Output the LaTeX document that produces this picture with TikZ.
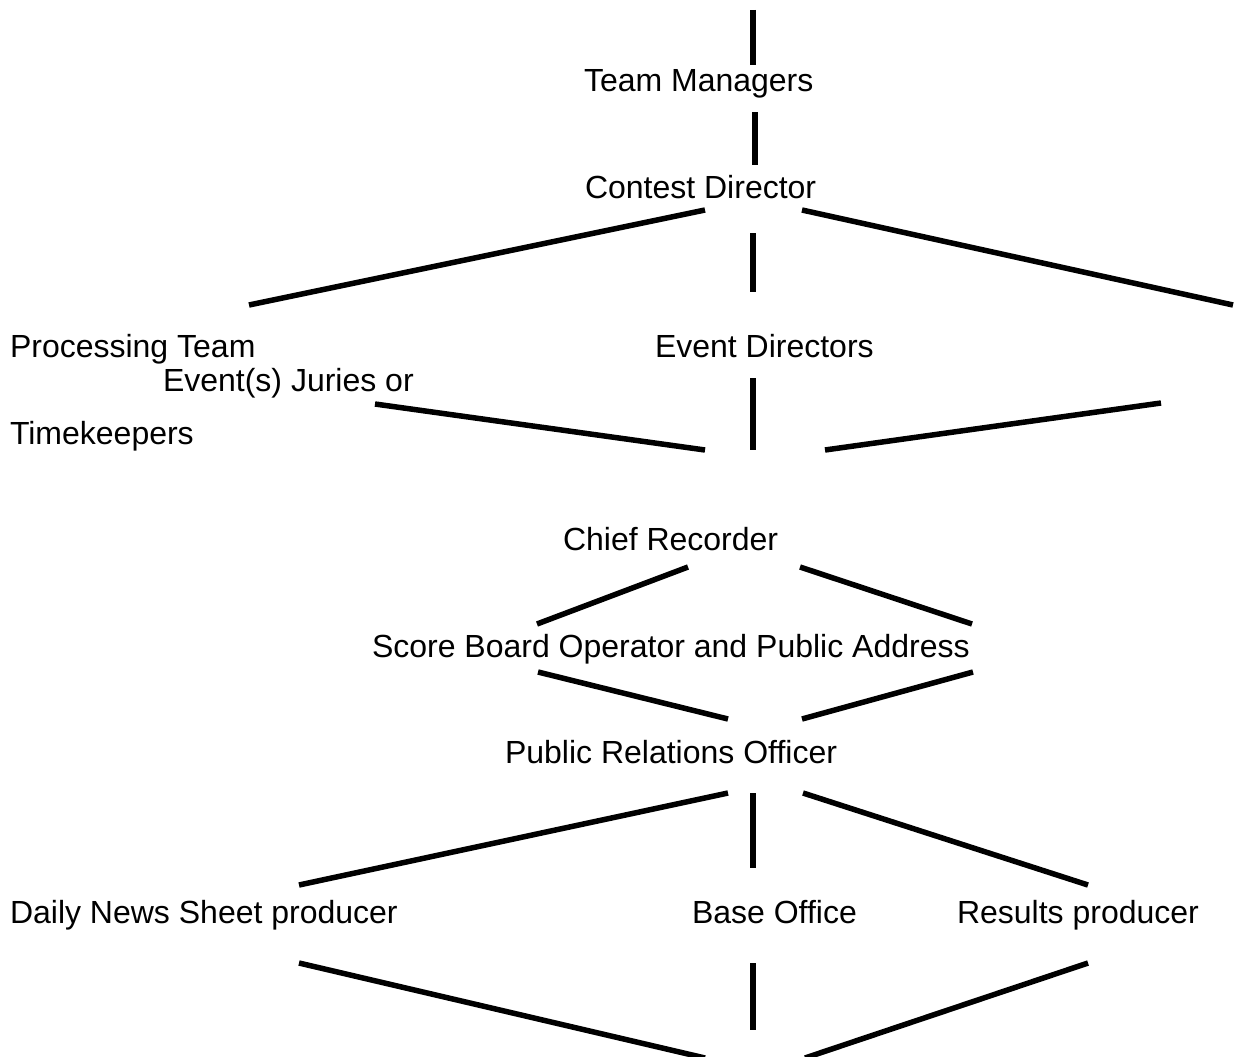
\documentclass[tikz,border=0pt]{standalone}
\usepackage{fontspec}
\setmainfont{Liberation Sans}
\begin{document}
\begin{tikzpicture}[x=1pt,y=-1pt,
  lbl/.style={anchor=base west,inner sep=0pt,outer sep=0pt,font=\fontsize{32}{38}\selectfont},
  conn/.style={line width=5.5pt,line cap=butt,black}]
\useasboundingbox (0,0) rectangle (1239,1057);
% labels
\node[lbl] (tm)  at (584,92)  {Team Managers};
\node[lbl] (cd)  at (585,198) {Contest Director};
\node[lbl] (pt)  at (10,357)  {Processing Team};
\node[lbl] (ed)  at (655,357) {Event Directors};
\node[lbl] (ej)  at (163,391) {Event(s) Juries or};
\node[lbl] (tk)  at (10,444)  {Timekeepers};
\node[lbl] (cr)  at (563,550) {Chief Recorder};
\node[lbl] (sb)  at (372,657) {Score Board Operator and Public Address};
\node[lbl] (pr)  at (505,763) {Public Relations Officer};
\node[lbl] (dn)  at (10,923)  {Daily News Sheet producer};
\node[lbl] (bo)  at (692,923) {Base Office};
\node[lbl] (rp)  at (957,923) {Results producer};
% connector end points
\coordinate (a1) at (753,10);   \coordinate (a2) at (753,65);
\coordinate (b1) at (755,112);  \coordinate (b2) at (755,165);
\coordinate (c1) at (705,210);  \coordinate (c2) at (249,305);
\coordinate (d1) at (802,210);  \coordinate (d2) at (1233,305);
\coordinate (e1) at (753,233);  \coordinate (e2) at (753,292);
\coordinate (f1) at (375,404);  \coordinate (f2) at (705,450);
\coordinate (g1) at (753,378);  \coordinate (g2) at (753,450);
\coordinate (h1) at (825,450);  \coordinate (h2) at (1161,403);
\coordinate (i1) at (688,567);  \coordinate (i2) at (537,624);
\coordinate (j1) at (800,567);  \coordinate (j2) at (972,624);
\coordinate (k1) at (538,672);  \coordinate (k2) at (728,719);
\coordinate (l1) at (973,672);  \coordinate (l2) at (802,719);
\coordinate (m1) at (728,793);  \coordinate (m2) at (299,885);
\coordinate (n1) at (753,793);  \coordinate (n2) at (753,868);
\coordinate (o1) at (803,793);  \coordinate (o2) at (1088,885);
\coordinate (p1) at (299,963);  \coordinate (p2) at (705,1058);
\coordinate (q1) at (753,963);  \coordinate (q2) at (753,1030);
\coordinate (r1) at (1088,963); \coordinate (r2) at (805,1058);
\foreach \s in {a,b,c,d,e,f,g,h,i,j,k,l,m,n,o,p,q,r}
  \draw[conn] (\s1) -- (\s2);
\end{tikzpicture}
\end{document}
